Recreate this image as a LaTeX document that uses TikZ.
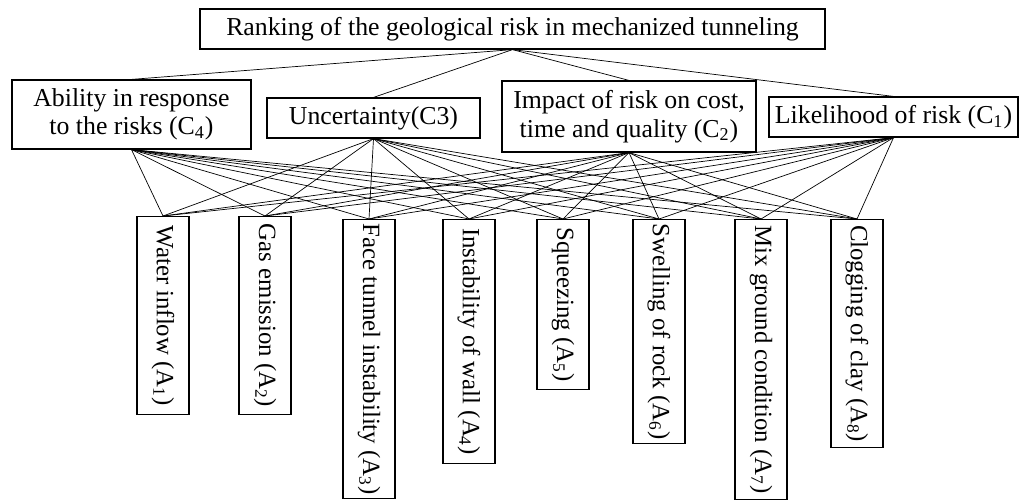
\documentclass[tikz,border=0pt]{standalone}
\usepackage{fontspec}
\setmainfont{Liberation Serif}
\begin{document}
\begin{tikzpicture}[x=0.5pt,y=-0.5pt,
	box/.style={draw, line width=0.6pt, inner sep=0pt, align=center, font=\fontsize{12.9}{14.2}\selectfont},
	critbox/.style={box},
	altbox/.style={box, rotate=-90, anchor=west, minimum height=26pt, font=\fontsize{12.4}{14}\selectfont},
	link/.style={line width=0.35pt}]
	\useasboundingbox (0,0) rectangle (1021,500);
	%Goal
	\node[box, minimum width=312.5pt, minimum height=20pt] (goal) at (512.5,29) {Ranking of the geological risk in mechanized tunneling};
	%Criteria
	\node[critbox, minimum width=119.5pt, minimum height=34.5pt] (c4) at (131.5,114.5) {Ability in response\\to the risks (C\textsubscript{4})};
	\node[critbox, minimum width=106.5pt, minimum height=20pt] (c3) at (373.5,118) {Uncertainty(C3)};
	\node[critbox, minimum width=127pt, minimum height=35.5pt] (c2) at (629,116.5) {Impact of risk on cost,\\time and quality (C\textsubscript{2})};
	\node[critbox, minimum width=124.5pt, minimum height=20pt] (c1) at (893.5,117) {Likelihood of risk (C\textsubscript{1})};
	%Alternatives
	\node[altbox, minimum width=99pt] (a1) at (163,216) {Water inflow (A\textsubscript{1})};
	\node[altbox, minimum width=99pt] (a2) at (265,216) {Gas emission (A\textsubscript{2})};
	\node[altbox, minimum width=139.5pt] (a3) at (369,219) {Face tunnel instability (A\textsubscript{3})};
	\node[altbox, minimum width=122pt] (a4) at (469,219) {Instability of wall (A\textsubscript{4})};
	\node[altbox, minimum width=85pt] (a5) at (563,219) {Squeezing (A\textsubscript{5})};
	\node[altbox, minimum width=112pt] (a6) at (659,219) {Swelling of rock (A\textsubscript{6})};
	\node[altbox, minimum width=140pt] (a7) at (761,219) {Mix ground condition (A\textsubscript{7})};
	\node[altbox, minimum width=114pt] (a8) at (857,219) {Clogging of clay (A\textsubscript{8})};
	%Links
	\foreach \c in {c1,c2,c3,c4}
		\draw[link] (goal.south) -- (\c.north);
	\foreach \c in {c1,c2,c3,c4}
		\foreach \i in {1,...,8}
			\draw[link] (\c.south) -- (a\i.west);
\end{tikzpicture}
\end{document}
